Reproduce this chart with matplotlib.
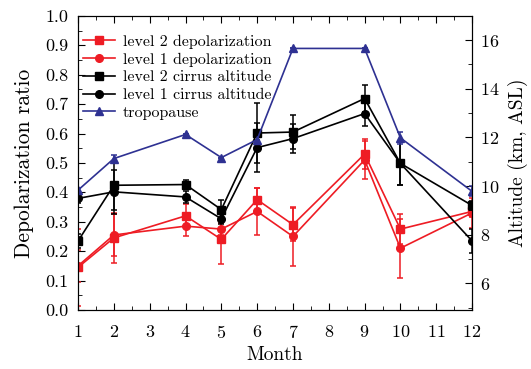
import matplotlib
matplotlib.use("Agg")
import matplotlib.pyplot as plt
from matplotlib.ticker import MultipleLocator

plt.rcParams['font.family'] = ['cmr10', 'DejaVu Serif']
plt.rcParams['axes.formatter.use_mathtext'] = True
plt.rcParams['mathtext.fontset'] = 'cm'

# data
months = [1, 2, 4, 5, 6, 7, 9, 10, 12]

level2_depol = [0.145, 0.245, 0.32, 0.24, 0.375, 0.29, 0.53, 0.275, 0.335]
level2_depol_err = [0.13, 0.085, 0.04, 0.085, 0.04, 0.055, 0.05, 0.05, 0.02]
level1_depol = [0.15, 0.255, 0.285, 0.275, 0.335, 0.25, 0.51, 0.21, 0.33]
level1_depol_err = [0.055, 0.07, 0.035, 0.02, 0.08, 0.1, 0.065, 0.1, 0.05]

level2_alt = [7.74, 10.03, 10.06, 9.03, 12.18, 12.22, 13.6, 10.93, 9.2]
level2_alt_err = [0.3, 1.0, 0.2, 0.4, 1.24, 0.7, 0.55, 0.9, 0.2]
level1_alt = [9.49, 9.76, 9.55, 8.65, 11.58, 11.95, 12.98, 10.93, 7.74]
level1_alt_err = [0.2, 0.9, 0.25, 0.2, 1.0, 0.6, 0.5, 0.9, 0.5]

tropopause = [9.83, 11.13, 12.12, 11.17, 11.91, 15.66, 15.66, 11.98, 9.78]
tropopause_err = [0.1, 0.15, 0, 0, 0, 0, 0, 0.25, 0.2]

red = '#ee1c24'
blue = '#2e3192'

fig = plt.figure(figsize=(5.31, 3.69), dpi=100)
ax = fig.add_axes([0.147, 0.160, 0.742, 0.797])
ax2 = ax.twinx()

eb = dict(capsize=2.5, elinewidth=1.1, capthick=1.1, lw=1.2, ms=5.5)

h1 = ax.errorbar(months, level2_depol, yerr=level2_depol_err, color=red,
                 marker='s', label='level 2 depolarization', **eb)
h2 = ax.errorbar(months, level1_depol, yerr=level1_depol_err, color=red,
                 marker='o', label='level 1 depolarization', **eb)
h3 = ax2.errorbar(months, level2_alt, yerr=level2_alt_err, color='black',
                  marker='s', label='level 2 cirrus altitude', **eb)
h4 = ax2.errorbar(months, level1_alt, yerr=level1_alt_err, color='black',
                  marker='o', label='level 1 cirrus altitude', **eb)
h5 = ax2.errorbar(months, tropopause, yerr=tropopause_err, color=blue,
                  marker='^', label='tropopause', **eb)

ax.set_xlim(1, 12)
ax.set_ylim(0, 1.0)
ax2.set_ylim(4.9, 17)

ax.xaxis.set_major_locator(MultipleLocator(1))
ax.xaxis.set_minor_locator(MultipleLocator(0.5))
ax.yaxis.set_major_locator(MultipleLocator(0.1))
ax.yaxis.set_minor_locator(MultipleLocator(0.05))
ax2.yaxis.set_major_locator(MultipleLocator(2))
ax2.yaxis.set_minor_locator(MultipleLocator(1))
ax.yaxis.set_major_formatter(plt.FormatStrFormatter('%.1f'))

ax.tick_params(which='both', direction='in', top=True, labelsize=13)
ax.tick_params(which='major', length=5)
ax.tick_params(which='minor', length=3)
ax.tick_params(axis='x', pad=10)
ax.tick_params(axis='y', pad=7)
ax2.tick_params(which='both', direction='in', labelsize=13, pad=6)
ax2.tick_params(which='major', length=5)
ax2.tick_params(which='minor', length=3)

ax.set_xlabel('Month', fontsize=14, labelpad=4)
ax.set_ylabel('Depolarization ratio', fontsize=15.5, labelpad=8)
ax2.set_ylabel('Altitude (km, ASL)', fontsize=14, labelpad=6)

handles = [h[0] for h in (h1, h2, h3, h4, h5)]
labels = [h.get_label() for h in (h1, h2, h3, h4, h5)]
ax2.legend(handles, labels, loc='upper left', bbox_to_anchor=(0.0, 0.952),
           frameon=False, fontsize=11.5, handlelength=2.0, handletextpad=0.5,
           labelspacing=0.22, borderaxespad=0, borderpad=0.3)

fig.savefig('out.png', dpi=100)
